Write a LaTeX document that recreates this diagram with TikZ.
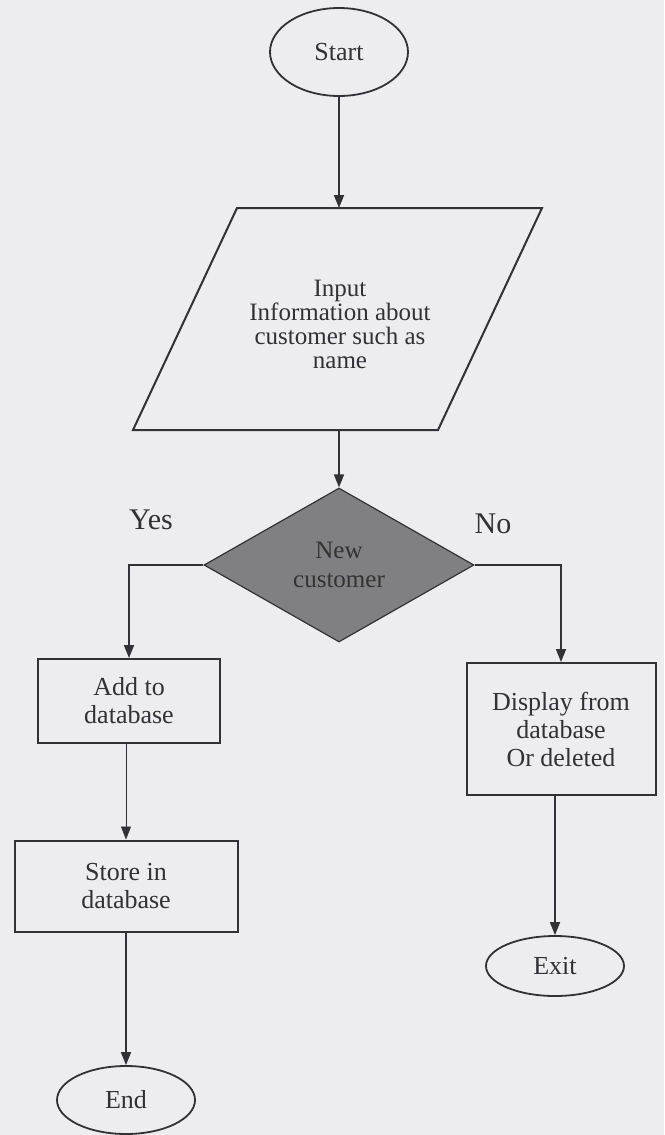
\documentclass[tikz,border=0pt]{standalone}
\usepackage{fontspec}
\setmainfont{Liberation Serif}
\usetikzlibrary{shapes.geometric,arrows.meta}
\definecolor{paper}{RGB}{237,237,240}
\definecolor{ink}{RGB}{50,50,54}
\definecolor{decfill}{RGB}{128,128,130}
\tikzset{
  box/.style={draw=ink, line width=2pt, rectangle, inner sep=0pt, align=center,
    text=ink, font=\fontsize{26}{28}\selectfont},
  term/.style={draw=ink, line width=1.8pt, ellipse, inner sep=0pt,
    text=ink, font=\fontsize{26}{28}\selectfont},
  flow/.style={draw=ink, line width=1.7pt, -{Triangle[length=13pt,width=10pt]}},
  thinflow/.style={flow, line width=0.9pt},
  lbl/.style={text=ink, font=\fontsize{30}{30}\selectfont}
}
\begin{document}
\begin{tikzpicture}[x=1pt,y=-1pt]
  \useasboundingbox (0,0) rectangle (664,1135);
  \fill[paper] (0,0) rectangle (664,1135);

  % terminals
  \node[term, minimum width=138pt, minimum height=88pt] (start) at (339,52) {Start};
  \node[term, minimum width=138pt, minimum height=68pt] (end) at (126,1100) {End};
  \node[term, minimum width=138pt, minimum height=60pt] (exit) at (555,966) {Exit};

  % input parallelogram
  \coordinate (intop) at (339,208);
  \coordinate (inbot) at (339,430);
  \draw[ink, line width=2pt, line join=miter] (237,208) -- (542,208) -- (438,430) -- (133,430) -- cycle;
  \node[align=center, text=ink, font=\fontsize{25}{24}\selectfont] (input) at (340,324)
    {Input\\Information about\\customer such as\\name};

  % decision
  \node[draw=ink, fill=decfill, line width=1.2pt, diamond, aspect=1.75, inner sep=0pt,
        minimum width=270pt, minimum height=154pt, align=center, text=black!80,
        font=\fontsize{25}{29}\selectfont] (dec) at (339,565) {New\\customer};
  \node[lbl] (yes) at (151,520) {Yes};
  \node[lbl] (no) at (493,524) {No};

  % process boxes
  \node[box, minimum width=182pt, minimum height=84pt] (add) at (129,701) {Add to\\database};
  \node[box, minimum width=223pt, minimum height=91pt] (store) at (126,886) {Store in\\database};
  \node[box, minimum width=189pt, minimum height=132pt] (disp) at (561,729)
    {Display from\\database\\Or deleted};

  % connectors
  \draw[flow] (start) -- (intop);
  \draw[flow] (inbot) -- (dec.north);
  \draw[flow] (dec.west) -| (add.north);
  \draw[flow] (dec.east) -| (disp.north);
  \draw[thinflow] (add.south -| store.north) -- (store.north);
  \draw[flow] (store.south) -- (end.north);
  \draw[flow] (disp.south -| exit.north) -- (exit.north);
\end{tikzpicture}
\end{document}
